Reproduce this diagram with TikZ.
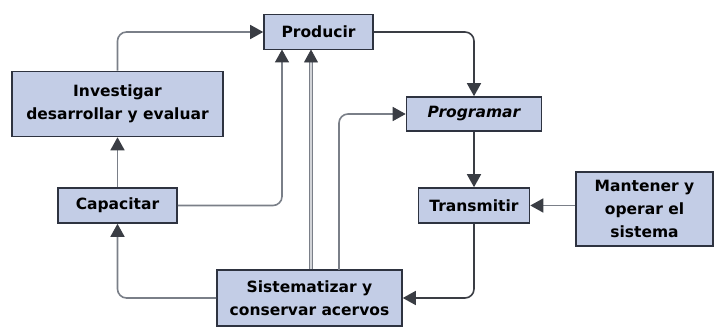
\documentclass[tikz,border=0pt]{standalone}
\usepackage{fontspec}
\setsansfont{DejaVu Sans}
\usetikzlibrary{arrows.meta}
\definecolor{cajafill}{HTML}{C3CDE6}
\definecolor{cajaborde}{HTML}{2E3340}
\definecolor{lineagris}{HTML}{7A7F88}
\definecolor{lineaosc}{HTML}{3A3D44}
\definecolor{lineaclara}{HTML}{D2D4D8}
\tikzset{
	caja/.style={draw=cajaborde, fill=cajafill, line width=1.6pt, align=center,
		inner sep=2pt, font=\sffamily\bfseries\fontsize{15.5}{23}\selectfont},
	flecha/.style={line width=1.6pt, draw=lineagris, rounded corners=9pt,
		-{Triangle[width=14pt,length=13pt,color=lineaosc]}},
	flechaosc/.style={flecha, draw=lineaosc}
}
\begin{document}
\begin{tikzpicture}[x=1pt, y=-1pt]
				%\draw[help lines] (0,0) grid (714,328);
				\useasboundingbox (0,0) rectangle (714,328);
				
				\node[caja, minimum width=109pt, minimum height=35pt] (producir) at (318.5,32) {Producir};
				\node[caja, minimum width=211pt, minimum height=65pt] (investigar) at (117.5,104) {Investigar\\desarrollar y evaluar};
				\node[caja, minimum width=135pt, minimum height=34pt] (programar) at (474,114) {\itshape Programar};
				\node[caja, minimum width=119pt, minimum height=35pt] (capacitar) at (117.5,205.5) {Capacitar};
				\node[caja, minimum width=111pt, minimum height=35pt] (transmitir) at (474,205.5) {Transmitir};
				\node[caja, minimum width=137pt, minimum height=74pt] (mantener) at (644.5,209) {Mantener y\\operar el\\sistema};
				\node[caja, minimum width=185pt, minimum height=56pt] (sistematizar) at (309.5,298) {Sistematizar y\\conservar acervos};
				
				\coordinate (p1) at (282,49.5);
				\coordinate (p2) at (311,49.5);
				\coordinate (s3) at (339,270);
				
				\draw[flecha] (investigar.north) |- (producir.west);
				\draw[flecha] (capacitar.east) -| (p1);
				\draw[flecha, line width=0.8pt, double=lineaclara, double distance=1.6pt] (sistematizar.north -| p2) -- (p2);
				\draw[flecha] (s3) |- (programar.west);
				\draw[flechaosc] (producir.east) -| (programar.north);
				\draw[flechaosc] (programar.south) -- (transmitir.north);
				\draw[flecha] (mantener.west |- transmitir.east) -- (transmitir.east);
				\draw[flechaosc] (transmitir.south) |- (sistematizar.east);
				\draw[flecha] (sistematizar.west) -| (capacitar.south);
				\draw[flecha] (capacitar.north) -- (investigar.south);
\end{tikzpicture}
\end{document}
